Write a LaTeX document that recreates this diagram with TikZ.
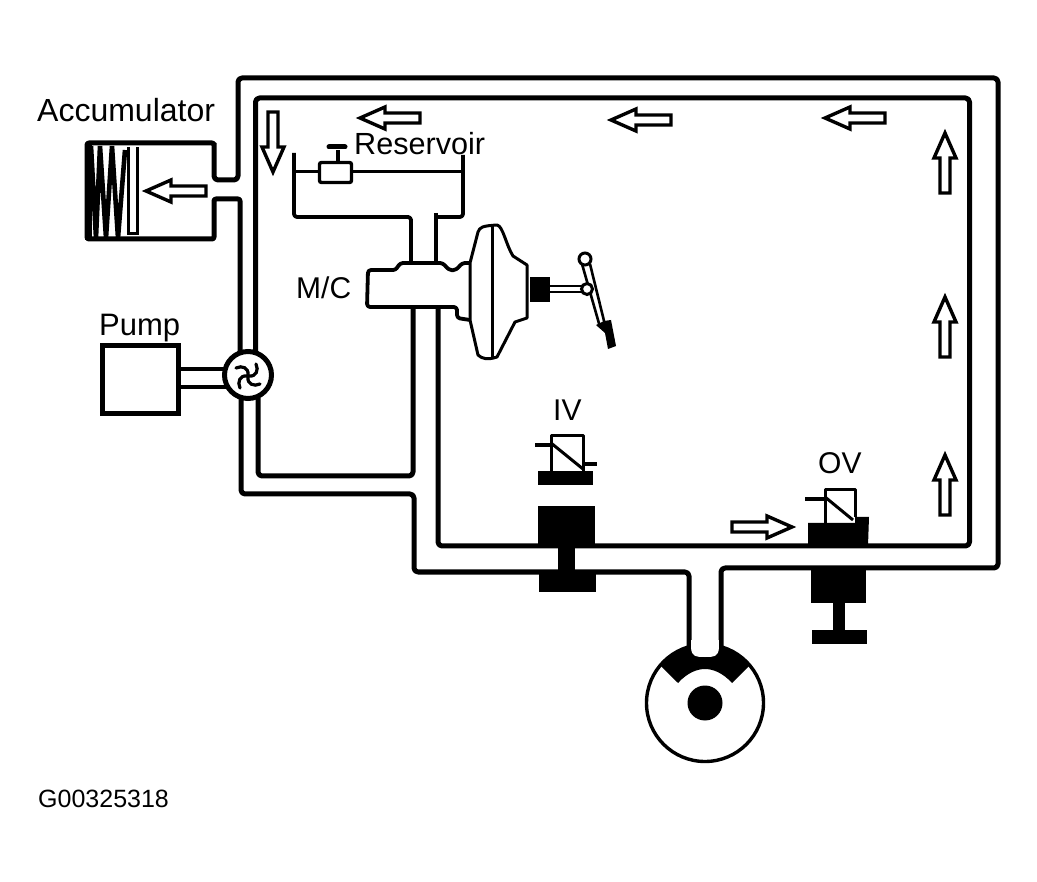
\documentclass[tikz,border=0pt]{standalone}
\usepackage{fontspec}
\setmainfont{Liberation Sans}
\tikzset{
  pipe/.style={line width=5pt,line join=round,rounded corners=4pt},
  thin pipe/.style={line width=3.8pt,line join=round,rounded corners=3pt},
  fine/.style={line width=3pt,line join=round},
  harrow/.pic={\draw[line width=3.4pt,line join=miter,fill=white] (0,0)--(-25,11)--(-25,5)--(-60,5)--(-60,-5)--(-25,-5)--(-25,-11)--cycle;},
  lbl/.style={inner sep=0pt,anchor=base west},
  blade/.pic={\draw[line width=3.2pt,line cap=round] (0,-1) .. controls (1,-8) and (-6,-11) .. (-12,-8);}
}
\begin{document}
\begin{tikzpicture}[x=1pt,y=-1pt]
\useasboundingbox (0,0) rectangle (1037,882);
\fill[white] (0,0) rectangle (1037,882);

% outer pipe
\draw[pipe,rounded corners=2pt] (214,145) -- (214,143) -- (87,143) -- (87,239) -- (214,239) -- (214,199) -- (240,199) [rounded corners=4pt] -- (240,352);
\draw[pipe] (214,143) -- (214,180) -- (238,180) -- (238,78) -- (998,78) -- (998,568) -- (721,568) -- (721,648);
\draw[pipe] (241,398) -- (241,494) -- (414,494) -- (414,572) -- (689,572) -- (689,648);
% inner pipe
\draw[pipe] (255.5,352) -- (255.5,98) -- (969.5,98) -- (969.5,546) -- (438,546) -- (438,308);
\draw[pipe] (258,398) -- (258,476) -- (413,476) -- (413,308);
% accumulator
\draw[line width=3pt] (128,147) -- (128,234) -- (137,234) -- (137,147);
\fill (85,143) rectangle (92,240);
\begin{scope}
\clip (85,143) rectangle (128,238);
\draw[line width=4.6pt,line join=miter] (91,146) -- (96,238) -- (100,146) -- (106,238) -- (112,146) -- (118,238) -- (125,150);
\end{scope}
\pic[rotate=180] at (146,191) {harrow};
\node[lbl,font=\fontsize{32}{32}\selectfont] (accumulator) at (37,122) {Accumulator};

% pump
\node[draw,line width=5pt,minimum width=76pt,minimum height=68pt,inner sep=0pt] (pump) at (140,380) {};
\coordinate (pumpa) at (178,369);
\coordinate (pumpb) at (178,387);
\node[circle,draw,fill=white,line width=5pt,minimum size=47pt,inner sep=0pt] (wheel) at (248,375) {};
\draw[line width=4.5pt] (pumpa) -- (226,369);
\draw[line width=4.5pt] (pumpb) -- (226,387);
\begin{scope}[shift={(248,376)}]
\pic[rotate=0] {blade};\pic[rotate=90] {blade};\pic[rotate=180] {blade};\pic[rotate=270] {blade};
\end{scope}
\node[lbl,font=\fontsize{31}{31}\selectfont] (pumplabel) at (99,336) {Pump};

% reservoir
\draw[thin pipe] (294,153) -- (294,217) -- (411,217) -- (411,263);
\draw[thin pipe] (436,213) -- (436,263);
\draw[thin pipe] (436,217) -- (463,217) -- (463,155);
\draw[line width=3pt] (294,172) -- (463,172);
\node[draw,fill=white,line width=3.4pt,rounded corners=2pt,minimum width=32pt,minimum height=20pt,inner sep=0pt] (cap) at (335.5,172.5) {};
\draw[line width=4pt] (cap.north) ++(2,0) -- (337.5,150);
\draw[line width=5pt,line cap=round] (329,147) -- (345,147);
\node[lbl,font=\fontsize{30.6}{31}\selectfont] (reservoir) at (354,155) {Reservoir};

% master cylinder
\draw[thin pipe,fill=white,rounded corners=3pt] (470,263) -- (462,263) .. controls (455,272) and (450,272) .. (443,263) -- (400,263) .. controls (396,270) and (394,270) .. (390,270) -- (368,270) -- (367,307) -- (457,307) -- (457,318) -- (470,320);
\node[lbl,font=\fontsize{30}{30}\selectfont] (mc) at (296,299) {M/C};

% booster
\draw[line width=3pt,line join=round,fill=white] (470,263) -- (478,232) .. controls (480,227) and (482,226) .. (497,225) .. controls (503,226) and (506,245) .. (513,256) -- (527,265) -- (527,303) -- (527,318) -- (515,322) -- (497,357) .. controls (488,360) and (482,359) .. (478,355) -- (470,320) -- cycle;
\draw[line width=3pt] (492,226) -- (492,359);
\fill (530,277) rectangle (550,302);
\draw[line width=2.6pt] (549,286) -- (583,286);
\draw[line width=2.6pt] (549,292) -- (583,292);
\draw[line width=2.6pt] (582,264) -- (600,327);
\draw[line width=2.6pt] (590,264) -- (605,325);
\node[circle,draw,fill=white,line width=3pt,minimum size=12pt,inner sep=0pt] (lever) at (585,259) {};
\node[circle,draw,fill=white,line width=3pt,minimum size=11pt,inner sep=0pt] (pivot) at (587,289) {};
\fill (596,325) -- (604,321) -- (611,320) -- (616,346) -- (608,349) -- (605,333) -- cycle;

% inlet valve
\node[lbl,font=\fontsize{30}{30}\selectfont] (ivlabel) at (553,421) {IV};
\draw[fine] (551,472) -- (551,436) -- (583,436) -- (583,472);
\draw[fine] (551,443) -- (583,469);
\draw[line width=4pt] (535,445) -- (551,445);
\draw[line width=4pt] (583,464) -- (597,464);
\fill (538,471) rectangle (593,485);
\fill (538,506) rectangle (595,546);
\fill (558,546) rectangle (575,574);
\fill (539,572) rectangle (596,592);

% outlet valve
\node[lbl,font=\fontsize{30}{30}\selectfont] (ovlabel) at (818,474) {OV};
\draw[fine] (825,523) -- (825,490) -- (855,490) -- (855,517);
\draw[fine] (825,497) -- (853,520);
\draw[line width=4pt] (805,499) -- (825,499);
\fill (808,523) -- (855,523) -- (855,517) -- (869,517) -- (868,546) -- (808,546) -- cycle;
\fill (811,570) rectangle (866,603);
\fill (833,603) rectangle (845,630);
\fill (812,630) rectangle (867,644);

% wheel cylinder
\node[circle,draw,line width=3.4pt,minimum size=117pt,inner sep=0pt] (cam) at (705,703) {};
\node[circle,fill=black,minimum size=35pt,inner sep=0pt] (hub) at (705,703) {};
\fill (660.6,665.7) arc[start angle=140,end angle=40,radius=58pt] -- (732,683) .. controls (722,672) and (712,669) .. (705,669) .. controls (698,669) and (688,672) .. (678,683) -- cycle;
\fill[white] (691,640) -- (691,648) .. controls (692,657) and (696,657) .. (705,657) .. controls (714,657) and (718,657) .. (719,648) -- (719,640) -- cycle;
\draw[line width=4pt] (689,640) -- (689,650);
\draw[line width=4pt] (721,640) -- (721,650);

% flow arrows
\pic[rotate=-90] at (273,172) {harrow};
\pic[rotate=180] at (360,118) {harrow};
\pic[rotate=180] at (611,120) {harrow};
\pic[rotate=180] at (825,118) {harrow};
\pic[rotate=90] at (945,133) {harrow};
\pic[rotate=90] at (945,297) {harrow};
\pic[rotate=90] at (945,455) {harrow};
\pic at (792,527) {harrow};

\node[lbl,font=\fontsize{25}{25}\selectfont] (code) at (38,807) {G00325318};
\end{tikzpicture}
\end{document}
